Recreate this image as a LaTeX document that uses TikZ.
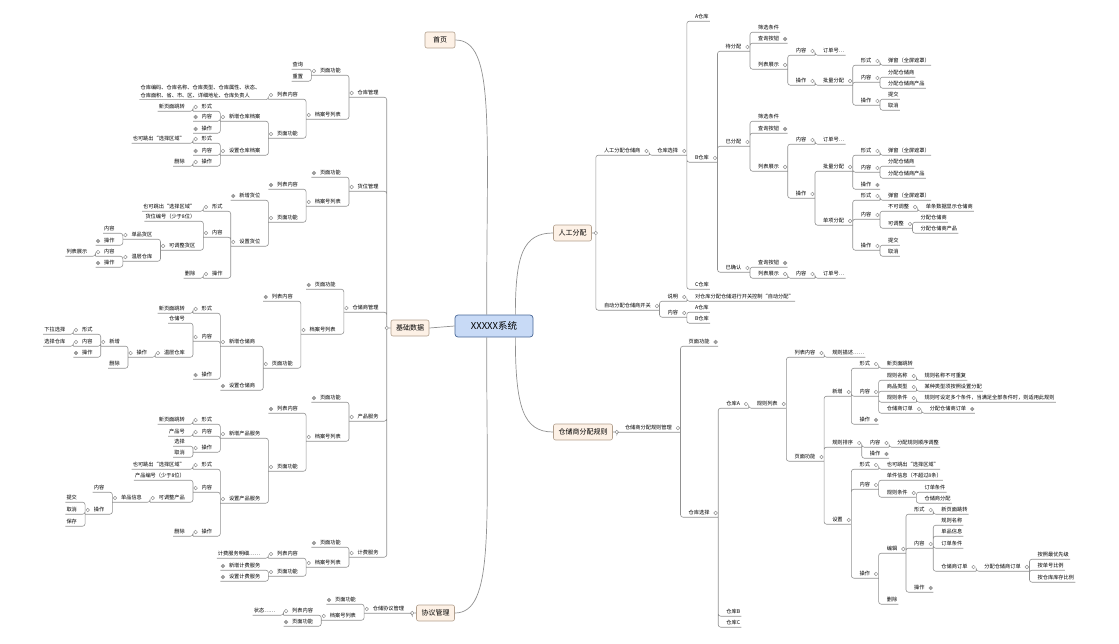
\documentclass[tikz,border=0pt]{standalone}
\usepackage{fontspec}
\setmainfont{Noto Sans CJK SC}
\usetikzlibrary{positioning}
\definecolor{linegray}{RGB}{145,145,145}
\definecolor{topicfill}{RGB}{253,241,230}
\definecolor{topicline}{RGB}{178,160,142}
\definecolor{rootfill}{RGB}{200,218,246}
\definecolor{rootline}{RGB}{72,102,150}

\begin{document}
\begin{tikzpicture}[x=1pt, y=-1pt,
    txt/.style={font=\fontsize{5.2}{8}\selectfont, inner xsep=1pt, inner ysep=1.5pt},
    tx/.style={txt, text height=4.2pt, text depth=.8pt},
    lt/.style={tx, anchor=east, xshift=-7pt},
    rt/.style={tx, anchor=west, xshift=7pt},
    lml/.style={txt, align=left, anchor=east, xshift=-7pt},
    mko/.style={circle, draw=linegray, fill=white, line width=.5pt, inner sep=0pt, minimum size=3.6pt},
    mkc/.style={mko, fill=linegray!85},
    lo/.style={lt, execute at begin node=\hspace{7.5pt}, label={[mko, anchor=center, xshift=2.6pt]west:}},
    lc/.style={lt, execute at begin node=\hspace{7.5pt}, label={[mkc, anchor=center, xshift=2.6pt]west:}},
    ro/.style={rt, execute at end node=\hspace{7.5pt}, label={[mko, anchor=center, xshift=-2.6pt]east:}},
    rc/.style={rt, execute at end node=\hspace{7.5pt}, label={[mkc, anchor=center, xshift=-2.6pt]east:}},
    link/.style={draw=linegray, line width=.6pt, rounded corners=2.5pt},
    tl/.style={to path={(\tikztostart.south west) -- (\tikztostart.south east) -| (\tikztotarget.south west)}},
    tr/.style={to path={(\tikztostart.south east) -- (\tikztostart.south west) -| (\tikztotarget.south east)}},
    tlb/.style={to path={(\tikztostart.south west) -- (\tikztostart.south east) -| (\tikztotarget)}},
    trb/.style={to path={(\tikztostart.south east) -- (\tikztostart.south west) -| (\tikztotarget)}},
    topic/.style={draw=topicline, fill=topicfill, rounded corners=2pt, line width=.6pt, font=\fontsize{7}{8}\selectfont, inner xsep=5pt, minimum height=16pt, minimum width=30pt},
    root/.style={draw=rootline, fill=rootfill, rounded corners=3pt, line width=.7pt, font=\fontsize{9.5}{10}\selectfont, minimum width=78pt, minimum height=22pt},
    curve/.style={draw=linegray, line width=.7pt}
]
\useasboundingbox (0,0) rectangle (1119,643);

% --- main topics ---
\node[root] (ctr) at (494,326) {XXXXX系统};
\node[topic] (home) at (440,40) {首页};
\node[topic] (base) at (410,328) {基础数据};
\node[topic] (xy) at (435.5,613) {协议管理};
\node[topic] (rg) at (572.5,233) {人工分配};
\node[topic] (gz) at (583,432) {仓储商分配规则};
\node[mko] (mbase) at ([xshift=-4pt]base.west) {};
\node[mko] (mxy) at ([xshift=-4pt]xy.west) {};
\node[mko] (mrg) at ([xshift=4pt]rg.east) {};
\node[mko] (mgz) at ([xshift=4pt]gz.east) {};

% --- 基础数据: 仓库管理 ---
\node[lo] (ck) at (mbase |- 0,93) {仓库管理};
\node[lo] (ckGn) at (ck.south west |- 0,71) {页面功能};
\node[lt] (ckCx) at (ckGn.south west |- 0,65) {查询};
\node[lt] (ckCz) at (ckGn.south west |- 0,77) {重置};
\node[lo] (ckLb) at (ck.south west |- 0,115) {档案号列表};
\node[lo] (ckNr) at (ckLb.south west |- 0,95) {列表内容};
\node[lml] (ckZd) at (ckNr.south west |- 0,91.5) {仓库编码、仓库名称、仓库类型、仓库属性、状态、\\仓库面积、省、市、区、详细地址、仓库负责人};
\node[lo] (ckYm) at (ckLb.south west |- 0,134) {页面功能};
\node[lo] (ckXz) at (ckYm.south west |- 0,117) {新增仓库档案};
\node[lo] (ckXzXs) at (ckXz.south west |- 0,107) {形式};
\node[lt] (ckXzTz) at (ckXzXs.south west |- 0,107) {新页面跳转};
\node[lc] (ckXzNr) at (ckXz.south west |- 0,117) {内容};
\node[lc] (ckXzCz) at (ckXz.south west |- 0,129) {操作};
\node[lo] (ckSz) at (ckYm.south west |- 0,151) {设置仓库档案};
\node[lo] (ckSzXs) at (ckSz.south west |- 0,139) {形式};
\node[lt] (ckSzTc) at (ckSzXs.south west |- 0,139) {也可跳出“选择区域”};
\node[lc] (ckSzNr) at (ckSz.south west |- 0,151) {内容};
\node[lo] (ckSzCz) at (ckSz.south west |- 0,162) {操作};
\node[lt] (ckSzSc) at (ckSzCz.south west |- 0,162) {删除};

% --- 基础数据: 货位管理 ---
\node[lo] (hw) at (mbase |- 0,187) {货位管理};
\node[lc] (hwGn) at (hw.south west |- 0,173) {页面功能};
\node[lo] (hwLb) at (hw.south west |- 0,202) {档案号列表};
\node[lc] (hwNr) at (hwLb.south west |- 0,185) {列表内容};
\node[lo] (hwYm) at (hwLb.south west |- 0,218) {页面功能};
\node[lc] (hwXz) at (hwYm.south west |- 0,196) {新增货位};
\node[lo] (hwSz) at (hwYm.south west |- 0,242) {设置货位};
\node[lo] (hwSzXs) at (hwSz.south west |- 0,207) {形式};
\node[lt] (hwSzTc) at (hwSzXs.south west |- 0,207) {也可跳出“选择区域”};
\node[lo] (hwSzNr) at (hwSz.south west |- 0,233) {内容};
\node[lt] (hwBh) at (hwSzNr.south west |- 0,217) {货位编号（少于8位）};
\node[lo] (hwTz) at (hwSzNr.south west |- 0,246) {可调整货区};
\node[lo] (hwDp) at (hwTz.south west |- 0,235) {单品货区};
\node[lt] (hwDpNr) at (hwDp.south west |- 0,229) {内容};
\node[lc] (hwDpCz) at (hwDp.south west |- 0,241) {操作};
\node[lo] (hwWc) at (hwTz.south west |- 0,257) {温层仓库};
\node[lo] (hwWcNr) at (hwWc.south west |- 0,252) {内容};
\node[lt] (hwWcZs) at (hwWcNr.south west |- 0,252) {列表展示};
\node[lc] (hwWcCz) at (hwWc.south west |- 0,263) {操作};
\node[lo] (hwSzCz) at (hwSz.south west |- 0,274) {操作};
\node[lt] (hwSzSc) at (hwSzCz.south west |- 0,274) {删除};

% --- 基础数据: 仓储商管理 ---
\node[lo] (cs) at (mbase |- 0,308) {仓储商管理};
\node[lc] (csGn) at (cs.south west |- 0,285) {页面功能};
\node[lo] (csLb) at (cs.south west |- 0,330) {档案号列表};
\node[lc] (csNr) at (csLb.south west |- 0,297) {列表内容};
\node[lo] (csYm) at (csLb.south west |- 0,364) {页面功能};
\node[lo] (csXz) at (csYm.south west |- 0,342) {新增仓储商};
\node[lo] (csXzXs) at (csXz.south west |- 0,309) {形式};
\node[lt] (csXzTz) at (csXzXs.south west |- 0,309) {新页面跳转};
\node[lo] (csXzNr) at (csXz.south west |- 0,337) {内容};
\node[lt] (csCch) at (csXzNr.south west |- 0,319) {仓储号};
\node[lo] (csWc) at (csXzNr.south west |- 0,353) {温层仓库};
\node[lo] (csWcCz) at (csWc.south west |- 0,353) {操作};
\node[lo] (csWcXz) at (csWcCz.south west |- 0,342) {新增};
\node[lo] (csWcXs) at (csWcXz.south west |- 0,330) {形式};
\node[lt] (csWcXl) at (csWcXs.south west |- 0,330) {下拉选择};
\node[lo] (csWcNr) at (csWcXz.south west |- 0,342) {内容};
\node[lt] (csWcXc) at (csWcNr.south west |- 0,342) {选择仓库};
\node[lc] (csWcCz2) at (csWcXz.south west |- 0,353) {操作};
\node[lt] (csWcSc) at (csWcCz.south west |- 0,364) {删除};
\node[lc] (csXzCz) at (csXz.south west |- 0,375) {操作};
\node[lc] (csSz) at (csYm.south west |- 0,386) {设置仓储商};

% --- 基础数据: 产品服务 ---
\node[lo] (cp) at (mbase |- 0,417) {产品服务};
\node[lc] (cpGn) at (cp.south west |- 0,398) {页面功能};
\node[lo] (cpLb) at (cp.south west |- 0,437) {档案号列表};
\node[lc] (cpNr) at (cpLb.south west |- 0,409) {列表内容};
\node[lo] (cpYm) at (cpLb.south west |- 0,467) {页面功能};
\node[lo] (cpXz) at (cpYm.south west |- 0,434) {新增产品服务};
\node[lo] (cpXzXs) at (cpXz.south west |- 0,420) {形式};
\node[lt] (cpXzTz) at (cpXzXs.south west |- 0,420) {新页面跳转};
\node[lo] (cpXzNr) at (cpXz.south west |- 0,432) {内容};
\node[lt] (cpCph) at (cpXzNr.south west |- 0,432) {产品号};
\node[lo] (cpXzCz) at (cpXz.south west |- 0,448) {操作};
\node[lt] (cpXzXz) at (cpXzCz.south west |- 0,442) {选择};
\node[lt] (cpXzQx) at (cpXzCz.south west |- 0,453) {取消};
\node[lo] (cpSz) at (cpYm.south west |- 0,499) {设置产品服务};
\node[lo] (cpSzXs) at (cpSz.south west |- 0,465) {形式};
\node[lt] (cpSzTc) at (cpSzXs.south west |- 0,465) {也可跳出“选择区域”};
\node[lo] (cpSzNr) at (cpSz.south west |- 0,488) {内容};
\node[lt] (cpBh) at (cpSzNr.south west |- 0,476) {产品编号（少于8位）};
\node[lo] (cpTz) at (cpSzNr.south west |- 0,498) {可调整产品};
\node[lo] (cpDp) at (cpTz.south west |- 0,498) {单品信息};
\node[lt] (cpDpNr) at (cpDp.south west |- 0,488) {内容};
\node[lo] (cpDpCz) at (cpDp.south west |- 0,510) {操作};
\node[lt] (cpTj) at (cpDpCz.south west |- 0,498) {提交};
\node[lt] (cpQx) at (cpDpCz.south west |- 0,510) {取消};
\node[lt] (cpBc) at (cpDpCz.south west |- 0,522) {保存};
\node[lo] (cpSzCz) at (cpSz.south west |- 0,532) {操作};
\node[lt] (cpSzSc) at (cpSzCz.south west |- 0,532) {删除};

% --- 基础数据: 计费服务 ---
\node[lo] (jf) at (mbase |- 0,553) {计费服务};
\node[lc] (jfGn) at (jf.south west |- 0,543) {页面功能};
\node[lo] (jfLb) at (jf.south west |- 0,563) {档案号列表};
\node[lo] (jfNr) at (jfLb.south west |- 0,554) {列表内容};
\node[lt] (jfMx) at (jfNr.south west |- 0,554) {计费服务明细……};
\node[lo] (jfYm) at (jfLb.south west |- 0,572) {页面功能};
\node[lc] (jfXz) at (jfYm.south west |- 0,566) {新增计费服务};
\node[lc] (jfSz) at (jfYm.south west |- 0,577) {设置计费服务};

% --- 协议管理 ---
\node[lo] (xyGl) at (mxy |- 0,609) {仓储协议管理};
\node[lc] (xyGn) at (xyGl.south west |- 0,600) {页面功能};
\node[lo] (xyLb) at (xyGl.south west |- 0,616) {档案号列表};
\node[lo] (xyNr) at (xyLb.south west |- 0,611) {列表内容};
\node[lt] (xyZt) at (xyNr.south west |- 0,611) {状态……};
\node[lc] (xyYm) at (xyLb.south west |- 0,622) {页面功能};

% --- 人工分配 ---
\node[ro] (rgCs) at (mrg |- 0,151) {人工分配仓储商};
\node[ro] (rgXz) at (rgCs.south east |- 0,151) {仓库选择};
\node[rt] (rgA) at (rgXz.south east |- 0,17) {A仓库};
\node[ro] (rgB) at (rgXz.south east |- 0,158) {B仓库};
\node[rt] (rgC) at (rgXz.south east |- 0,285) {C仓库};
\node[ro] (dfp) at (rgB.south east |- 0,47) {待分配};
\node[rt] (dfpSx) at (dfp.south east |- 0,28) {筛选条件};
\node[rc] (dfpCx) at (dfp.south east |- 0,39) {查询按钮};
\node[ro] (dfpZs) at (dfp.south east |- 0,65) {列表展示};
\node[ro] (dfpNr) at (dfpZs.south east |- 0,51) {内容};
\node[rt] (dfpDd) at (dfpNr.south east |- 0,51) {订单号…};
\node[ro] (dfpCz) at (dfpZs.south east |- 0,81) {操作};
\node[ro] (dfpPl) at (dfpCz.south east |- 0,81) {批量分配};
\node[ro] (dfpXs) at (dfpPl.south east |- 0,61) {形式};
\node[rt] (dfpTc) at (dfpXs.south east |- 0,61) {弹窗（全屏遮罩）};
\node[ro] (dfpPn) at (dfpPl.south east |- 0,78) {内容};
\node[rt] (dfpCc) at (dfpPn.south east |- 0,73) {分配仓储商};
\node[rt] (dfpCp) at (dfpPn.south east |- 0,84) {分配仓储商产品};
\node[ro] (dfpPc) at (dfpPl.south east |- 0,101) {操作};
\node[rt] (dfpTj) at (dfpPc.south east |- 0,95) {提交};
\node[rt] (dfpQx) at (dfpPc.south east |- 0,106) {取消};
\node[ro] (yfp) at (rgB.south east |- 0,142) {已分配};
\node[rt] (yfpSx) at (yfp.south east |- 0,117) {筛选条件};
\node[rc] (yfpCx) at (yfp.south east |- 0,129) {查询按钮};
\node[ro] (yfpZs) at (yfp.south east |- 0,167) {列表展示};
\node[ro] (yfpNr) at (yfpZs.south east |- 0,140) {内容};
\node[rt] (yfpDd) at (yfpNr.south east |- 0,140) {订单号…};
\node[ro] (yfpCz) at (yfpZs.south east |- 0,194) {操作};
\node[ro] (yfpPl) at (yfpCz.south east |- 0,167) {批量分配};
\node[ro] (yfpPlXs) at (yfpPl.south east |- 0,151) {形式};
\node[rt] (yfpPlTc) at (yfpPlXs.south east |- 0,151) {弹窗（全屏遮罩）};
\node[ro] (yfpPlNr) at (yfpPl.south east |- 0,168) {内容};
\node[rt] (yfpPlCc) at (yfpPlNr.south east |- 0,162) {分配仓储商};
\node[rt] (yfpPlCp) at (yfpPlNr.south east |- 0,174) {分配仓储商产品};
\node[rc] (yfpPlCz) at (yfpPl.south east |- 0,185) {操作};
\node[ro] (yfpDx) at (yfpCz.south east |- 0,221) {单项分配};
\node[ro] (yfpDxXs) at (yfpDx.south east |- 0,196) {形式};
\node[rt] (yfpDxTc) at (yfpDxXs.south east |- 0,196) {弹窗（全屏遮罩）};
\node[ro] (yfpDxNr) at (yfpDx.south east |- 0,215) {内容};
\node[ro] (yfpBk) at (yfpDxNr.south east |- 0,207) {不可调整};
\node[rt] (yfpBkXs) at (yfpBk.south east |- 0,207) {单条数据显示仓储商};
\node[ro] (yfpKt) at (yfpDxNr.south east |- 0,224) {可调整};
\node[rt] (yfpKtCc) at (yfpKt.south east |- 0,218) {分配仓储商};
\node[rt] (yfpKtCp) at (yfpKt.south east |- 0,229) {分配仓储商产品};
\node[ro] (yfpDxCz) at (yfpDx.south east |- 0,246) {操作};
\node[rt] (yfpTj) at (yfpDxCz.south east |- 0,241) {提交};
\node[rt] (yfpQx) at (yfpDxCz.south east |- 0,252) {取消};
\node[ro] (yqr) at (rgB.south east |- 0,268) {已确认};
\node[rc] (yqrCx) at (yqr.south east |- 0,263) {查询按钮};
\node[ro] (yqrZs) at (yqr.south east |- 0,274) {列表展示};
\node[ro] (yqrNr) at (yqrZs.south east |- 0,274) {内容};
\node[rt] (yqrDd) at (yqrNr.south east |- 0,274) {订单号…};
\node[ro] (zd) at (mrg |- 0,306) {自动分配仓储商开关};
\node[ro] (zdSm) at (zd.south east |- 0,297) {说明};
\node[rt] (zdKz) at (zdSm.south east |- 0,297) {对仓库分配仓储进行开关控制“自动分配”};
\node[ro] (zdNr) at (zd.south east |- 0,313) {内容};
\node[rt] (zdA) at (zdNr.south east |- 0,308) {A仓库};
\node[rt] (zdB) at (zdNr.south east |- 0,319) {B仓库};

% --- 仓储商分配规则 ---
\node[ro] (gzGl) at (mgz |- 0,428) {仓储商分配规则管理};
\node[rc] (gzGn) at (gzGl.south east |- 0,342) {页面功能};
\node[ro] (gzXz) at (gzGl.south east |- 0,513) {仓库选择};
\node[ro] (gzA) at (gzXz.south east |- 0,404) {仓库A};
\node[rt] (gzB) at (gzXz.south east |- 0,612) {仓库B};
\node[rt] (gzC) at (gzXz.south east |- 0,623) {仓库C};
\node[ro] (gzLb) at (gzA.south east |- 0,404) {规则列表};
\node[ro] (gzNr) at (gzLb.south east |- 0,353) {列表内容};
\node[rt] (gzMs) at (gzNr.south east |- 0,353) {规则描述……};
\node[ro] (gzYm) at (gzLb.south east |- 0,457) {页面功能};
\node[ro] (xz) at (gzYm.south east |- 0,392) {新增};
\node[ro] (xzXs) at (xz.south east |- 0,364) {形式};
\node[rt] (xzTz) at (xzXs.south east |- 0,364) {新页面跳转};
\node[ro] (xzNr) at (xz.south east |- 0,392) {内容};
\node[ro] (xzMc) at (xzNr.south east |- 0,376) {规则名称};
\node[rt] (xzMcS) at (xzMc.south east |- 0,376) {规则名称不可重复};
\node[ro] (xzLx) at (xzNr.south east |- 0,387) {商品类型};
\node[rt] (xzLxS) at (xzLx.south east |- 0,387) {某种类型须按照设置分配};
\node[ro] (xzTj) at (xzNr.south east |- 0,398) {规则条件};
\node[rt] (xzTjS) at (xzTj.south east |- 0,398) {规则可设定多个条件，当满足全部条件时，则适用此规则};
\node[ro] (xzDd) at (xzNr.south east |- 0,409) {仓储商订单};
\node[rc] (xzDdS) at (xzDd.south east |- 0,409) {分配仓储商订单};
\node[rc] (xzCz) at (xz.south east |- 0,420) {操作};
\node[ro] (px) at (gzYm.south east |- 0,443) {规则排序};
\node[ro] (pxNr) at (px.south east |- 0,443) {内容};
\node[rt] (pxS) at (pxNr.south east |- 0,443) {分配规则顺序调整};
\node[rc] (pxCz) at (px.south east |- 0,454) {操作};
\node[ro] (sz) at (gzYm.south east |- 0,520) {设置};
\node[ro] (szXs) at (sz.south east |- 0,465) {形式};
\node[rt] (szTc) at (szXs.south east |- 0,465) {也可跳出“选择区域”};
\node[ro] (szNr) at (sz.south east |- 0,485) {内容};
\node[rt] (szDj) at (szNr.south east |- 0,476) {单件信息（不超过8条）};
\node[ro] (szTj) at (szNr.south east |- 0,493) {规则条件};
\node[rt] (szDdTj) at (szTj.south east |- 0,488) {订单条件};
\node[rt] (szCcs) at (szTj.south east |- 0,499) {仓储商分配};
\node[ro] (szCz) at (sz.south east |- 0,574) {操作};
\node[ro] (bj) at (szCz.south east |- 0,549) {编辑};
\node[rt] (szSc) at (szCz.south east |- 0,600) {删除};
\node[ro] (bjXs) at (bj.south east |- 0,510) {形式};
\node[rt] (bjTz) at (bjXs.south east |- 0,510) {新页面跳转};
\node[ro] (bjNr) at (bj.south east |- 0,544) {内容};
\node[rt] (bjMc) at (bjNr.south east |- 0,521) {规则名称};
\node[rt] (bjDp) at (bjNr.south east |- 0,532) {单品信息};
\node[rt] (bjTj) at (bjNr.south east |- 0,544) {订单条件};
\node[ro] (bjDd) at (bjNr.south east |- 0,567) {仓储商订单};
\node[ro] (bjFp) at (bjDd.south east |- 0,567) {分配仓储商订单};
\node[rt] (bjYx) at (bjFp.south east |- 0,555) {按照最优先级};
\node[rt] (bjBl) at (bjFp.south east |- 0,566) {按单号比例};
\node[rt] (bjKc) at (bjFp.south east |- 0,578) {按仓库库存比例};
\node[rc] (bjCz) at (bj.south east |- 0,588) {操作};

% --- curves from the centre ---
\draw[curve] (ctr.west) -- (base.east);
\draw[curve] ([xshift=32pt]ctr.north west) .. controls +(0,-190) and +(40,0) .. (home.east);
\draw[curve] ([xshift=32pt]ctr.south west) .. controls +(0,190) and +(40,0) .. (xy.east);
\draw[curve] ([xshift=-18pt]ctr.north east) .. controls +(0,-60) and +(-30,0) .. (rg.west);
\draw[curve] ([xshift=-18pt]ctr.south east) .. controls +(0,70) and +(-30,0) .. (gz.west);

% --- connectors, left side ---
\draw[link] (mbase) -- (base) (mxy) -- (xy)
  (ck) to[tlb] (mbase) (hw) to[tlb] (mbase) (cs) to[tlb] (mbase) (cp) to[tlb] (mbase) (jf) to[tlb] (mbase)
  (xyGl) to[tlb] (mxy);
\draw[link] (ckGn) to[tl] (ck) (ckCx) to[tl] (ckGn) (ckCz) to[tl] (ckGn) (ckLb) to[tl] (ck)
  (ckNr) to[tl] (ckLb) (ckZd) to[tl] (ckNr) (ckYm) to[tl] (ckLb) (ckXz) to[tl] (ckYm)
  (ckXzXs) to[tl] (ckXz) (ckXzTz) to[tl] (ckXzXs) (ckXzNr) to[tl] (ckXz) (ckXzCz) to[tl] (ckXz)
  (ckSz) to[tl] (ckYm) (ckSzXs) to[tl] (ckSz) (ckSzTc) to[tl] (ckSzXs) (ckSzNr) to[tl] (ckSz)
  (ckSzCz) to[tl] (ckSz) (ckSzSc) to[tl] (ckSzCz);
\draw[link] (hwGn) to[tl] (hw) (hwLb) to[tl] (hw) (hwNr) to[tl] (hwLb) (hwYm) to[tl] (hwLb)
  (hwXz) to[tl] (hwYm) (hwSz) to[tl] (hwYm) (hwSzXs) to[tl] (hwSz) (hwSzTc) to[tl] (hwSzXs)
  (hwSzNr) to[tl] (hwSz) (hwBh) to[tl] (hwSzNr) (hwTz) to[tl] (hwSzNr) (hwDp) to[tl] (hwTz)
  (hwDpNr) to[tl] (hwDp) (hwDpCz) to[tl] (hwDp) (hwWc) to[tl] (hwTz) (hwWcNr) to[tl] (hwWc)
  (hwWcZs) to[tl] (hwWcNr) (hwWcCz) to[tl] (hwWc) (hwSzCz) to[tl] (hwSz) (hwSzSc) to[tl] (hwSzCz);
\draw[link] (csGn) to[tl] (cs) (csLb) to[tl] (cs) (csNr) to[tl] (csLb) (csYm) to[tl] (csLb)
  (csXz) to[tl] (csYm) (csXzXs) to[tl] (csXz) (csXzTz) to[tl] (csXzXs) (csXzNr) to[tl] (csXz)
  (csCch) to[tl] (csXzNr) (csWc) to[tl] (csXzNr) (csWcCz) to[tl] (csWc) (csWcXz) to[tl] (csWcCz)
  (csWcXs) to[tl] (csWcXz) (csWcXl) to[tl] (csWcXs) (csWcNr) to[tl] (csWcXz) (csWcXc) to[tl] (csWcNr)
  (csWcCz2) to[tl] (csWcXz) (csWcSc) to[tl] (csWcCz) (csXzCz) to[tl] (csXz) (csSz) to[tl] (csYm);
\draw[link] (cpGn) to[tl] (cp) (cpLb) to[tl] (cp) (cpNr) to[tl] (cpLb) (cpYm) to[tl] (cpLb)
  (cpXz) to[tl] (cpYm) (cpXzXs) to[tl] (cpXz) (cpXzTz) to[tl] (cpXzXs) (cpXzNr) to[tl] (cpXz)
  (cpCph) to[tl] (cpXzNr) (cpXzCz) to[tl] (cpXz) (cpXzXz) to[tl] (cpXzCz) (cpXzQx) to[tl] (cpXzCz)
  (cpSz) to[tl] (cpYm) (cpSzXs) to[tl] (cpSz) (cpSzTc) to[tl] (cpSzXs) (cpSzNr) to[tl] (cpSz)
  (cpBh) to[tl] (cpSzNr) (cpTz) to[tl] (cpSzNr) (cpDp) to[tl] (cpTz) (cpDpNr) to[tl] (cpDp)
  (cpDpCz) to[tl] (cpDp) (cpTj) to[tl] (cpDpCz) (cpQx) to[tl] (cpDpCz) (cpBc) to[tl] (cpDpCz)
  (cpSzCz) to[tl] (cpSz) (cpSzSc) to[tl] (cpSzCz);
\draw[link] (jfGn) to[tl] (jf) (jfLb) to[tl] (jf) (jfNr) to[tl] (jfLb) (jfMx) to[tl] (jfNr)
  (jfYm) to[tl] (jfLb) (jfXz) to[tl] (jfYm) (jfSz) to[tl] (jfYm);
\draw[link] (xyGn) to[tl] (xyGl) (xyLb) to[tl] (xyGl) (xyNr) to[tl] (xyLb) (xyZt) to[tl] (xyNr)
  (xyYm) to[tl] (xyLb);

% --- connectors, right side ---
\draw[link] (mrg) -- (rg) (mgz) -- (gz)
  (rgCs) to[trb] (mrg) (zd) to[trb] (mrg) (gzGl) to[trb] (mgz);
\draw[link] (rgXz) to[tr] (rgCs) (rgA) to[tr] (rgXz) (rgB) to[tr] (rgXz) (rgC) to[tr] (rgXz)
  (dfp) to[tr] (rgB) (dfpSx) to[tr] (dfp) (dfpCx) to[tr] (dfp) (dfpZs) to[tr] (dfp)
  (dfpNr) to[tr] (dfpZs) (dfpDd) to[tr] (dfpNr) (dfpCz) to[tr] (dfpZs) (dfpPl) to[tr] (dfpCz)
  (dfpXs) to[tr] (dfpPl) (dfpTc) to[tr] (dfpXs) (dfpPn) to[tr] (dfpPl) (dfpCc) to[tr] (dfpPn)
  (dfpCp) to[tr] (dfpPn) (dfpPc) to[tr] (dfpPl) (dfpTj) to[tr] (dfpPc) (dfpQx) to[tr] (dfpPc);
\draw[link] (yfp) to[tr] (rgB) (yfpSx) to[tr] (yfp) (yfpCx) to[tr] (yfp) (yfpZs) to[tr] (yfp)
  (yfpNr) to[tr] (yfpZs) (yfpDd) to[tr] (yfpNr) (yfpCz) to[tr] (yfpZs) (yfpPl) to[tr] (yfpCz)
  (yfpPlXs) to[tr] (yfpPl) (yfpPlTc) to[tr] (yfpPlXs) (yfpPlNr) to[tr] (yfpPl)
  (yfpPlCc) to[tr] (yfpPlNr) (yfpPlCp) to[tr] (yfpPlNr) (yfpPlCz) to[tr] (yfpPl)
  (yfpDx) to[tr] (yfpCz) (yfpDxXs) to[tr] (yfpDx) (yfpDxTc) to[tr] (yfpDxXs) (yfpDxNr) to[tr] (yfpDx)
  (yfpBk) to[tr] (yfpDxNr) (yfpBkXs) to[tr] (yfpBk) (yfpKt) to[tr] (yfpDxNr) (yfpKtCc) to[tr] (yfpKt)
  (yfpKtCp) to[tr] (yfpKt) (yfpDxCz) to[tr] (yfpDx) (yfpTj) to[tr] (yfpDxCz) (yfpQx) to[tr] (yfpDxCz);
\draw[link] (yqr) to[tr] (rgB) (yqrCx) to[tr] (yqr) (yqrZs) to[tr] (yqr) (yqrNr) to[tr] (yqrZs)
  (yqrDd) to[tr] (yqrNr) (zdSm) to[tr] (zd) (zdKz) to[tr] (zdSm) (zdNr) to[tr] (zd)
  (zdA) to[tr] (zdNr) (zdB) to[tr] (zdNr);
\draw[link] (gzGn) to[tr] (gzGl) (gzXz) to[tr] (gzGl) (gzA) to[tr] (gzXz) (gzB) to[tr] (gzXz)
  (gzC) to[tr] (gzXz) (gzLb) to[tr] (gzA) (gzNr) to[tr] (gzLb) (gzMs) to[tr] (gzNr) (gzYm) to[tr] (gzLb)
  (xz) to[tr] (gzYm) (xzXs) to[tr] (xz) (xzTz) to[tr] (xzXs) (xzNr) to[tr] (xz)
  (xzMc) to[tr] (xzNr) (xzMcS) to[tr] (xzMc) (xzLx) to[tr] (xzNr) (xzLxS) to[tr] (xzLx)
  (xzTj) to[tr] (xzNr) (xzTjS) to[tr] (xzTj) (xzDd) to[tr] (xzNr) (xzDdS) to[tr] (xzDd) (xzCz) to[tr] (xz)
  (px) to[tr] (gzYm) (pxNr) to[tr] (px) (pxS) to[tr] (pxNr) (pxCz) to[tr] (px)
  (sz) to[tr] (gzYm) (szXs) to[tr] (sz) (szTc) to[tr] (szXs) (szNr) to[tr] (sz)
  (szDj) to[tr] (szNr) (szTj) to[tr] (szNr) (szDdTj) to[tr] (szTj) (szCcs) to[tr] (szTj)
  (szCz) to[tr] (sz) (bj) to[tr] (szCz) (szSc) to[tr] (szCz) (bjXs) to[tr] (bj) (bjTz) to[tr] (bjXs)
  (bjNr) to[tr] (bj) (bjMc) to[tr] (bjNr) (bjDp) to[tr] (bjNr) (bjTj) to[tr] (bjNr)
  (bjDd) to[tr] (bjNr) (bjFp) to[tr] (bjDd) (bjYx) to[tr] (bjFp) (bjBl) to[tr] (bjFp)
  (bjKc) to[tr] (bjFp) (bjCz) to[tr] (bj);

\end{tikzpicture}
\end{document}
